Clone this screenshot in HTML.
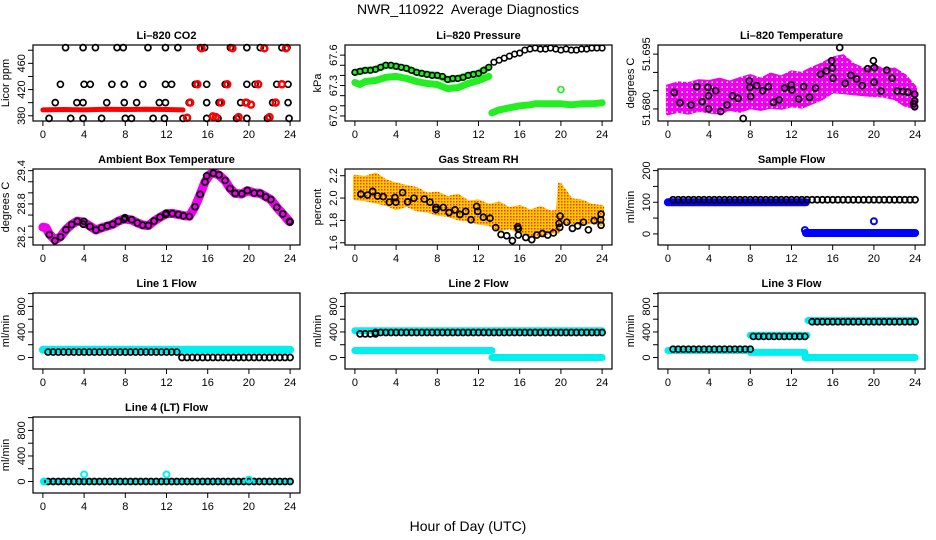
<!DOCTYPE html>
<html><head><meta charset="utf-8"><title>NWR_110922 Average Diagnostics</title>
<style>
html,body{margin:0;padding:0;background:#fff;}
svg{display:block;font-family:"Liberation Sans",sans-serif;}
</style></head>
<body>
<svg id="chart" width="936" height="540" viewBox="0 0 936 540" xmlns="http://www.w3.org/2000/svg">
<defs>
<pattern id="rhpat" width="3" height="3" patternUnits="userSpaceOnUse">
<rect width="3" height="3" fill="#ffcc00"/><rect x="0" y="0" width="1.5" height="1.5" fill="#ff3000"/>
</pattern>
<pattern id="magpat" width="5" height="5" patternUnits="userSpaceOnUse">
<rect width="5" height="5" fill="#f000f0"/><rect x="1.5" y="1.5" width="1.5" height="1.5" fill="#ffffff"/>
</pattern>
</defs>
<text x="468" y="14" text-anchor="middle" font-size="14">NWR_110922&#160; Average Diagnostics</text>
<text x="468" y="531" text-anchor="middle" font-size="14">Hour of Day (UTC)</text>
</svg>
<script>
// ---------- data ----------
const xTicks = [0,4,8,12,16,20,24];

// Li-820 CO2
const co2BlackX = [2.2,3.9,5.1,7.2,7.8,10.2,11.9,13.1,15.3,15.7,18.2,19.8,21.1,23.2,23.7,
 1.7,4.0,4.6,6.7,7.9,9.7,11.9,12.5,14.8,15.9,17.7,19.8,20.6,22.7,23.8,
 1.2,3.3,3.9,6.2,7.9,9.1,11.3,11.9,14.2,15.9,17.1,19.2,19.8,22.3,23.8,
 0.6,2.7,3.9,5.7,8.0,8.6,10.7,11.8,13.6,15.9,17.0,18.8,19.8,21.8,23.9];
const co2BlackY = [484,484,484,484,484,484,484,484,484,484,484,484,484,484,484,
 428,428,428,428,428,428,428,428,428,428,428,428,428,428,428,
 400,400,400,400,400,400,400,400,400,400,400,400,400,400,400,
 376,376,376,376,376,376,376,376,376,376,376,376,376,376,376];
const co2RedBandX = [0,2,4,6,8,10,12,13.6];
const co2RedBandY = [389,389.5,389,390,389.5,390,389.5,389];
const co2RedX = [14.0,14.3,15.0,15.4,16.5,16.8,17.3,17.9,18.4,19.0,19.7,20.2,20.9,21.5,22.0,22.6,23.2,23.6];
const co2RedY = [377,400,428,483,379,378,400,428,483,378,400,397,428,483,378,400,428,483];

// Li-820 Pressure
const presBlackX = [0,0.5,1,1.5,2,2.5,3,3.5,4,4.5,5,5.5,6,6.5,7,7.5,8,8.5,9,9.5,10,10.5,11,11.5,12,12.5,13,13.5,14,14.5,15,15.5,16,16.5,17,17.5,18,18.5,19,19.5,20,20.5,21,21.5,22,22.5,23,23.5,24];
const presBlackY = [67.43,67.44,67.45,67.45,67.46,67.48,67.50,67.50,67.49,67.48,67.47,67.45,67.43,67.42,67.41,67.40,67.40,67.39,67.36,67.37,67.37,67.38,67.40,67.41,67.42,67.45,67.48,67.53,67.55,67.57,67.59,67.61,67.62,67.65,67.66,67.67,67.66,67.66,67.67,67.66,67.65,67.66,67.65,67.65,67.66,67.66,67.67,67.67,67.67];
const presGreenUpX = [0,1,2,3,4,5,6,7,8,9,10,11,12,13];
const presGreenUpY = [67.43,67.45,67.46,67.50,67.49,67.47,67.43,67.41,67.40,67.36,67.37,67.40,67.42,67.48];
const presGreenLoX = [0,0.5,1,2,3,4,5,6,7,8,9,10,11,12,13];
const presGreenLoY = [67.33,67.31,67.34,67.35,67.38,67.39,67.37,67.34,67.32,67.31,67.27,67.28,67.32,67.35,67.39];
const presGreen2X = [13.3,14,15,16,17,17.5,18,19,20,21,22,23,24];
const presGreen2Y = [67.03,67.06,67.08,67.10,67.11,67.12,67.12,67.12,67.12,67.11,67.12,67.12,67.13];
const presOutX = [20.0];
const presOutY = [67.26];

// Li-820 Temperature
const ltBandX = [0,1,2,3,4,5,6,7,8,9,10,11,12,13,14,15,16,17,18,19,20,21,22,23,24];
const ltBandHi = [51.6862,51.6870,51.6868,51.6876,51.6874,51.6880,51.6872,51.6882,51.6890,51.6880,51.6894,51.6886,51.6900,51.6896,51.6910,51.6922,51.6938,51.6944,51.6920,51.6908,51.6916,51.6906,51.6908,51.6890,51.6858];
const ltBandLo = [51.6788,51.6795,51.6790,51.6798,51.6793,51.6790,51.6800,51.6795,51.6805,51.6800,51.6806,51.6803,51.6810,51.6806,51.6818,51.6830,51.6848,51.6846,51.6843,51.6840,51.6838,51.6836,51.6830,51.6812,51.6804];
const ltBlackX = [0.62,1.18,2.25,2.81,3.33,3.89,3.95,3.95,4.64,5.12,5.75,6.27,6.82,7.31,7.90,7.97,8.03,8.62,9.21,9.76,10.25,10.81,11.33,11.98,12.05,12.70,13.19,13.75,14.33,14.82,15.38,15.90,15.97,16.03,16.68,17.21,17.76,18.32,18.87,19.39,19.95,20.05,20.02,20.70,21.25,21.77,22.27,22.82,23.31,23.96,23.96,23.96,23.86];
const ltBlackY = [51.6845,51.6817,51.6811,51.6861,51.6820,51.6859,51.6836,51.6800,51.6850,51.6793,51.6811,51.6836,51.6829,51.6774,51.6877,51.6859,51.6834,51.6864,51.6850,51.6861,51.6818,51.6825,51.6857,51.6866,51.6852,51.6827,51.6861,51.6832,51.6857,51.6895,51.6904,51.6932,51.6912,51.6884,51.6968,51.6870,51.6892,51.6882,51.6864,51.6910,51.6932,51.6913,51.6873,51.6849,51.6906,51.6884,51.6849,51.6848,51.6846,51.6840,51.6822,51.6806,51.6814];

// Ambient box temperature
const ambX = [0.62,1.17,1.72,2.24,2.79,3.34,3.92,3.98,4.57,5.15,5.70,6.25,6.77,7.32,7.87,7.97,8.62,9.17,9.69,10.24,10.79,11.37,11.92,11.98,12.57,13.15,13.64,14.22,14.77,15.26,15.74,15.90,16.55,17.10,17.69,18.17,18.66,19.31,19.85,20.51,21.09,21.64,22.13,22.71,23.29,23.94,24.0];
const ambY = [28.247,28.136,28.206,28.335,28.428,28.487,28.434,28.487,28.393,28.329,28.370,28.405,28.434,28.487,28.522,28.551,28.516,28.458,28.417,28.411,28.493,28.563,28.610,28.633,28.627,28.610,28.586,28.575,28.750,28.973,29.195,29.306,29.353,29.324,29.224,29.078,28.990,28.984,29.043,28.996,28.990,28.926,28.879,28.739,28.621,28.487,28.475];
const ambBandX = [0,0.3,0.62,1.17,1.72,2.24,2.79,3.34,3.95,4.57,5.15,5.70,6.25,6.77,7.32,7.9,8.62,9.17,9.69,10.24,10.79,11.37,11.95,12.57,13.15,13.64,14.22,14.77,15.26,15.74,16.2,16.55,17.10,17.69,18.17,18.66,19.31,19.85,20.51,21.09,21.64,22.13,22.71,23.29,23.94];
const ambBandY = [28.38,28.37,28.26,28.15,28.21,28.34,28.43,28.49,28.47,28.40,28.33,28.37,28.40,28.43,28.49,28.53,28.51,28.46,28.42,28.41,28.49,28.56,28.62,28.63,28.61,28.59,28.58,28.75,28.97,29.20,29.33,29.36,29.32,29.22,29.08,28.99,28.98,29.04,29.00,28.99,28.93,28.88,28.74,28.62,28.48];

// Gas stream RH
const rhBandX = [0,1,2,3,4,5,6,7,8,9,10,11,12,13,14,15,16,17,18,19,19.7,19.9,20.2,21,22,23,24];
const rhBandHi = [2.19,2.18,2.21,2.15,2.12,2.10,2.08,2.03,2.04,2.00,2.02,1.96,1.97,1.93,1.95,1.90,1.92,1.88,1.91,1.87,1.88,2.12,2.08,1.98,1.97,1.93,1.92];
const rhBandLo = [2.00,1.99,1.97,1.95,1.91,1.94,1.90,1.89,1.86,1.85,1.82,1.81,1.78,1.77,1.72,1.74,1.70,1.68,1.67,1.70,1.70,1.80,1.78,1.79,1.77,1.79,1.77];
const rhBlackX = [0.58,1.23,1.72,2.20,2.75,3.34,3.89,3.98,4.63,5.12,5.73,6.74,7.29,7.87,7.87,8.58,9.14,9.72,10.20,10.76,11.27,11.82,11.92,12.47,13.12,13.67,14.19,14.74,15.29,15.81,15.87,15.87,16.59,17.17,17.66,18.21,18.72,19.27,19.82,19.89,19.92,20.57,21.12,21.63,22.19,22.67,23.23,23.87,23.90,23.90];
const rhBlackY = [2.035,2.027,2.060,2.018,2.013,1.963,2.005,1.963,2.049,1.966,1.999,1.991,1.963,1.916,1.897,1.916,1.870,1.894,1.853,1.881,1.806,1.925,1.881,1.828,1.820,1.735,1.674,1.663,1.619,1.743,1.724,1.669,1.647,1.628,1.669,1.683,1.669,1.688,1.773,1.738,1.839,1.784,1.729,1.751,1.784,1.716,1.798,1.806,1.856,1.757];

// Flows: segments [startHour, endHour, value]
const sampleBlueSeg = [[0,13.4,100],[13.4,24,3]];
const sampleBlackSeg = [[0.5,24,108]];
const sampleOutX = [13.3,20.0];
const sampleOutY = [12,40];

const line1CyanSeg = [[0,24,120]];
const line1BlackSeg = [[0.5,13.2,85],[13.5,24,0]];

const line2CyanSeg = [[0,24,420],[0,13.3,110],[13.3,24,0]];
const line2BlackSeg = [[0.5,2,370],[2,24,392]];

const line3CyanSeg = [[0,8,110],[8,13.5,350],[8,13.3,80],[13.6,24,580],[13.3,24,0]];
const line3BlackSeg = [[0.5,8,130],[8.3,13.5,330],[14,24,560]];

const line4CyanSeg = [[0,24,0]];
const line4BlackSeg = [[0.5,24,0]];
const line4OutX = [0.1,4.0,12.0,20.0];
const line4OutY = [0,110,110,30];

// ---------- drawing ----------
const NS = "http://www.w3.org/2000/svg";
const svg = document.getElementById("chart");
const colL = [33,345,658], W = 267, rowT = [45,169,293,417], H = 76;
const XMIN = -0.96, XMAX = 24.96;

function mk(tag, attrs, parent){
  const e = document.createElementNS(NS, tag);
  for (const k in attrs) e.setAttribute(k, attrs[k]);
  (parent||svg).appendChild(e);
  return e;
}

function panel(name, col, row, title, ylab, ymin, ymax, yTicks, yLabels){
  const g = mk("g", {});
  
  
  const L = colL[col], T = rowT[row];
  const p = {g, L, T,
    sx: x => L + (x - XMIN) / (XMAX - XMIN) * W,
    sy: y => T + H - (y - ymin) / (ymax - ymin) * H};
  const plot = mk("g", {}, g);
  
  
  p.plot = plot;
  const t = mk("text", {x: L + W/2, y: T - 6, "text-anchor":"middle", "font-size":"11", "font-weight":"bold"}, g);
  t.textContent = title;
  
  
  const yl = mk("text", {transform:`translate(${L-24},${T+H/2}) rotate(-90)`, "text-anchor":"middle", "font-size":"11"}, g);
  yl.textContent = ylab;
  
  
  const xa = mk("g", {}, g);
  
  
  mk("line", {x1:p.sx(0), x2:p.sx(24), y1:T+H, y2:T+H, stroke:"#000"}, xa);
  xTicks.forEach(v => {
    const x = p.sx(v);
    mk("line", {x1:x, x2:x, y1:T+H, y2:T+H+5, stroke:"#000"}, xa);
    const lt = mk("text", {x:x, y:T+H+17, "text-anchor":"middle", "font-size":"11"}, xa);
    lt.textContent = v;
  });
  const ya = mk("g", {}, g);
  
  
  yTicks.forEach((v, i) => {
    const y = p.sy(v);
    mk("line", {x1:L-5, x2:L, y1:y, y2:y, stroke:"#000"}, ya);
    if (yLabels[i] !== "") {
      const lt = mk("text", {transform:`translate(${L-8},${y}) rotate(-90)`, "text-anchor":"middle", "font-size":"11"}, ya);
      lt.textContent = yLabels[i];
    }
  });
  p.box = () => {
    const b = mk("rect", {x:L, y:T, width:W, height:H, fill:"none", stroke:"#000", "stroke-width":"1.2"}, g);
    
    
  };
  return p;
}

function pts(p, xs, ys, color, sw, r, nm){
  const g = mk("g", {}, p.plot);
  
  
  for (let i = 0; i < xs.length; i++) {
    const c = mk("circle", {cx:p.sx(xs[i]), cy:p.sy(ys[i]), r:r||3, fill:"none", stroke:color, "stroke-width":sw||1.7}, g);
    
    
  }
}
function band(p, xs, ys, color, w, nm){
  const d = xs.map((x,i)=> (i?"L":"M") + p.sx(x).toFixed(1) + "," + p.sy(ys[i]).toFixed(1)).join("");
  const e = mk("path", {d, fill:"none", stroke:color, "stroke-width":w, "stroke-linejoin":"round", "stroke-linecap":"round"}, p.plot);
  
  
}
function area(p, xs, hi, lo, fill, nm){
  let d = xs.map((x,i)=> (i?"L":"M") + p.sx(x).toFixed(1) + "," + p.sy(hi[i]).toFixed(1)).join("");
  for (let i = xs.length-1; i >= 0; i--) d += "L" + p.sx(xs[i]).toFixed(1) + "," + p.sy(lo[i]).toFixed(1);
  const e = mk("path", {d: d + "Z", fill, stroke:fill, "stroke-width":4, "stroke-linejoin":"round"}, p.plot);
  
  
}
function segBands(p, segs, color, w, nm){
  segs.forEach(s => band(p, [s[0], s[1]], [s[2], s[2]], color, w, nm));
}
function segPts(p, segs, color, nm){
  segs.forEach(s => {
    const xs = [], ys = [];
    for (let h = s[0]; h <= s[1] + 1e-6; h += 0.5) { xs.push(h); ys.push(s[2]); }
    pts(p, xs, ys, color, 1.7, 3, nm);
  });
}

const flowTicks = [0,200,400,600,800,1000], flowLabels = ["0","","400","","800",""];

let p = panel("co2", 0, 0, "Li\u2013820 CO2", "Licor ppm", 372, 488, [380,400,420,440,460,480], ["380","","420","","460",""]);
band(p, co2RedBandX, co2RedBandY, "#ff0000", 5, "co2-red-band");
pts(p, co2BlackX, co2BlackY, "#000", 1.7, 3, "co2-black-series");
pts(p, co2RedX, co2RedY, "#ff0000", 2.5, 3, "co2-red-series");
p.box();

p = panel("pressure", 1, 0, "Li\u2013820 Pressure", "kPa", 66.95, 67.70, [67.0,67.1,67.2,67.3,67.4,67.5,67.6], ["67.0","","","67.3","","","67.6"]);
band(p, presGreenUpX, presGreenUpY, "#22ee22", 7, "pressure-green-upper");
band(p, presGreenLoX, presGreenLoY, "#22ee22", 7, "pressure-green-lower");
band(p, presGreen2X, presGreen2Y, "#22ee22", 7, "pressure-green-after");
pts(p, presOutX, presOutY, "#22ee22", 1.7, 3, "pressure-green-outlier");
pts(p, presBlackX, presBlackY, "#000", 1.6, 2.8, "pressure-black-series");
p.box();

p = panel("li820-temp", 2, 0, "Li\u2013820 Temperature", "degrees C", 51.6767, 51.6975, [51.680,51.685,51.690,51.695], ["51.680","","","51.695"]);
area(p, ltBandX, ltBandHi, ltBandLo, "url(#magpat)", "li820-temp-magenta-cloud");
pts(p, ltBlackX, ltBlackY, "#000", 1.7, 3, "li820-temp-black-series");
p.box();

p = panel("ambient-temp", 0, 1, "Ambient Box Temperature", "degrees C", 28.06, 29.43, [28.2,28.4,28.6,28.8,29.0,29.2,29.4], ["28.2","","","28.8","","","29.4"]);
band(p, ambBandX, ambBandY, "#f000f0", 9, "ambient-magenta-band");
pts(p, ambX, ambY, "#000", 1.7, 3, "ambient-black-series");
p.box();

p = panel("rh", 1, 1, "Gas Stream RH", "percent", 1.58, 2.26, [1.6,1.8,2.0,2.2], ["1.6","1.8","2.0","2.2"]);
area(p, rhBandX, rhBandHi, rhBandLo, "url(#rhpat)", "rh-orange-cloud");
pts(p, rhBlackX, rhBlackY, "#000", 1.7, 3, "rh-black-series");
p.box();

p = panel("sample-flow", 2, 1, "Sample Flow", "ml/min", -35, 205, [0,50,100,150,200], ["0","","100","","200"]);
segBands(p, sampleBlueSeg, "#0000ff", 8, "sample-blue-band");
pts(p, sampleOutX, sampleOutY, "#0000ff", 2, 3, "sample-blue-outliers");
segPts(p, sampleBlackSeg, "#000", "sample-black-series");
p.box();

p = panel("line1-flow", 0, 2, "Line 1 Flow", "ml/min", -180, 1010, flowTicks, flowLabels);
segBands(p, line1CyanSeg, "#00f0f0", 8, "line1-cyan-band");
segPts(p, line1BlackSeg, "#000", "line1-black-series");
p.box();

p = panel("line2-flow", 1, 2, "Line 2 Flow", "ml/min", -180, 1010, flowTicks, flowLabels);
segBands(p, line2CyanSeg, "#00f0f0", 7, "line2-cyan-band");
segPts(p, line2BlackSeg, "#000", "line2-black-series");
p.box();

p = panel("line3-flow", 2, 2, "Line 3 Flow", "ml/min", -180, 1010, flowTicks, flowLabels);
segBands(p, line3CyanSeg, "#00f0f0", 7, "line3-cyan-band");
segPts(p, line3BlackSeg, "#000", "line3-black-series");
p.box();

p = panel("line4-flow", 0, 3, "Line 4 (LT) Flow", "ml/min", -180, 1010, flowTicks, flowLabels);
segBands(p, line4CyanSeg, "#00f0f0", 5, "line4-cyan-band");
segPts(p, line4BlackSeg, "#000", "line4-black-series");
pts(p, line4OutX, line4OutY, "#00f0f0", 2, 3, "line4-cyan-outliers");
p.box();
</script>
</body></html>
